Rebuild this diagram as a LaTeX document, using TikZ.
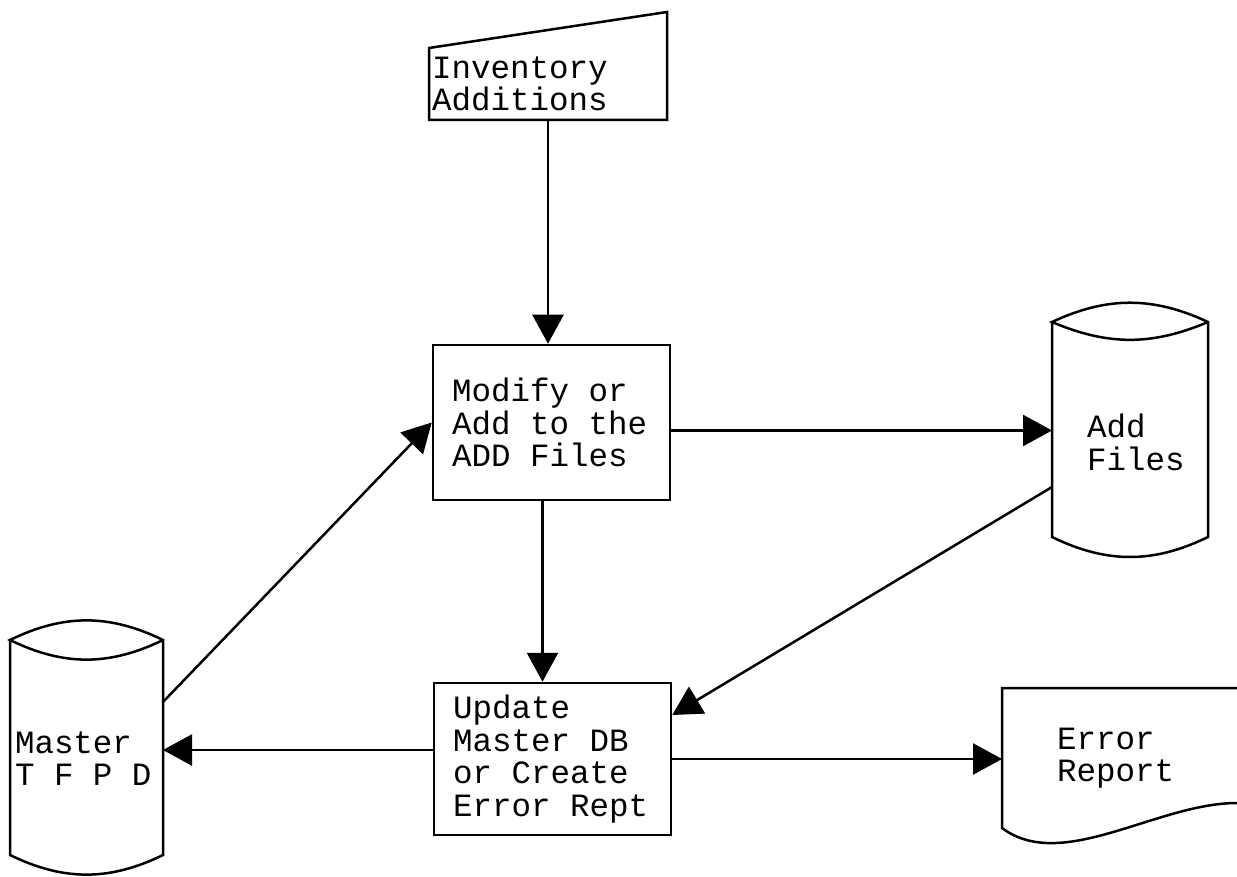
\documentclass[tikz,border=0pt]{standalone}
\usepackage{fontspec}
\setmainfont{Liberation Mono}
\usetikzlibrary{arrows.meta}

\begin{document}
\begin{tikzpicture}[x=1pt,y=-1pt,line width=2.5pt,
	every node/.style={font=\fontsize{32.5}{32.5}\selectfont,inner sep=0pt},
	proc/.style={draw,rectangle,text width=199pt,inner xsep=19pt,align=flush left},
	store/.style={rectangle,outer sep=0pt,align=flush left},
	flow/.style={-{Triangle[length=29pt,width=31pt]}}]
			\useasboundingbox (0,0) rectangle (1237,877);
			\node[rectangle,outer sep=0pt,text width=232pt,inner xsep=3pt,minimum height=72pt,align=flush left] (inv) at (548,84) {Inventory\\Additions};
			\node[proc,minimum height=155pt] (modify) at (551.5,422.5) {Modify or\\Add to the\\ADD Files};
			\node[proc,minimum height=152pt] (update) at (552.5,759) {Update\\Master DB\\or Create\\Error Rept};
			\node[store,text width=86pt,inner xsep=35pt,minimum height=189pt] (addfiles) at (1130,442.5) {Add\\Files};
			\node[store,text width=143pt,inner xsep=5pt,minimum height=193pt] (master) at (86.5,758.5) {Master\\T F P D};
			\node[rectangle,outer sep=0pt,text width=125pt,inner xsep=55pt,minimum height=140pt,align=flush left] (errrep) at (1119.5,758) {Error\\Report};
			% outlines
			\draw (inv.south west) -- (inv.north west) -- ([yshift=36pt]inv.north east) -- (inv.south east) -- cycle;
			\draw ([yshift=26pt]addfiles.north west) -- (addfiles.south west) to[bend right=26] (addfiles.south east) -- ([yshift=26pt]addfiles.north east) to[bend right=25] ([yshift=26pt]addfiles.north west) to[bend right=23] ([yshift=26pt]addfiles.north east);
			\draw ([yshift=22pt]master.north west) -- (master.south west) to[bend right=26] (master.south east) -- ([yshift=22pt]master.north east) to[bend right=26] ([yshift=22pt]master.north west) to[bend right=26] ([yshift=22pt]master.north east);
			\draw (errrep.north east) -- (errrep.north west) -- (errrep.south west) .. controls +(60,45) and +(-80,0) .. ([yshift=25pt]errrep.south east);
			% flows
			\draw[flow] (inv.south) -- (inv.south |- modify.north);
			\draw[flow] ([xshift=-9pt]modify.south) -- ([xshift=-9pt]modify.south |- update.north);
			\draw[flow] ([yshift=-8pt]modify.east) -- ([yshift=-8pt]modify.east -| addfiles.west);
			\draw[flow] ([yshift=-44.5pt]addfiles.west) -- ([yshift=44pt]update.east);
			\draw[flow] ([yshift=9pt]update.west) -- ([yshift=9pt]update.west -| master.east);
			\draw[flow] ([yshift=56.5pt]master.east) -- (modify.west);
			\draw[flow] (update.east) -- (update.east -| errrep.west);
\end{tikzpicture}
\end{document}
